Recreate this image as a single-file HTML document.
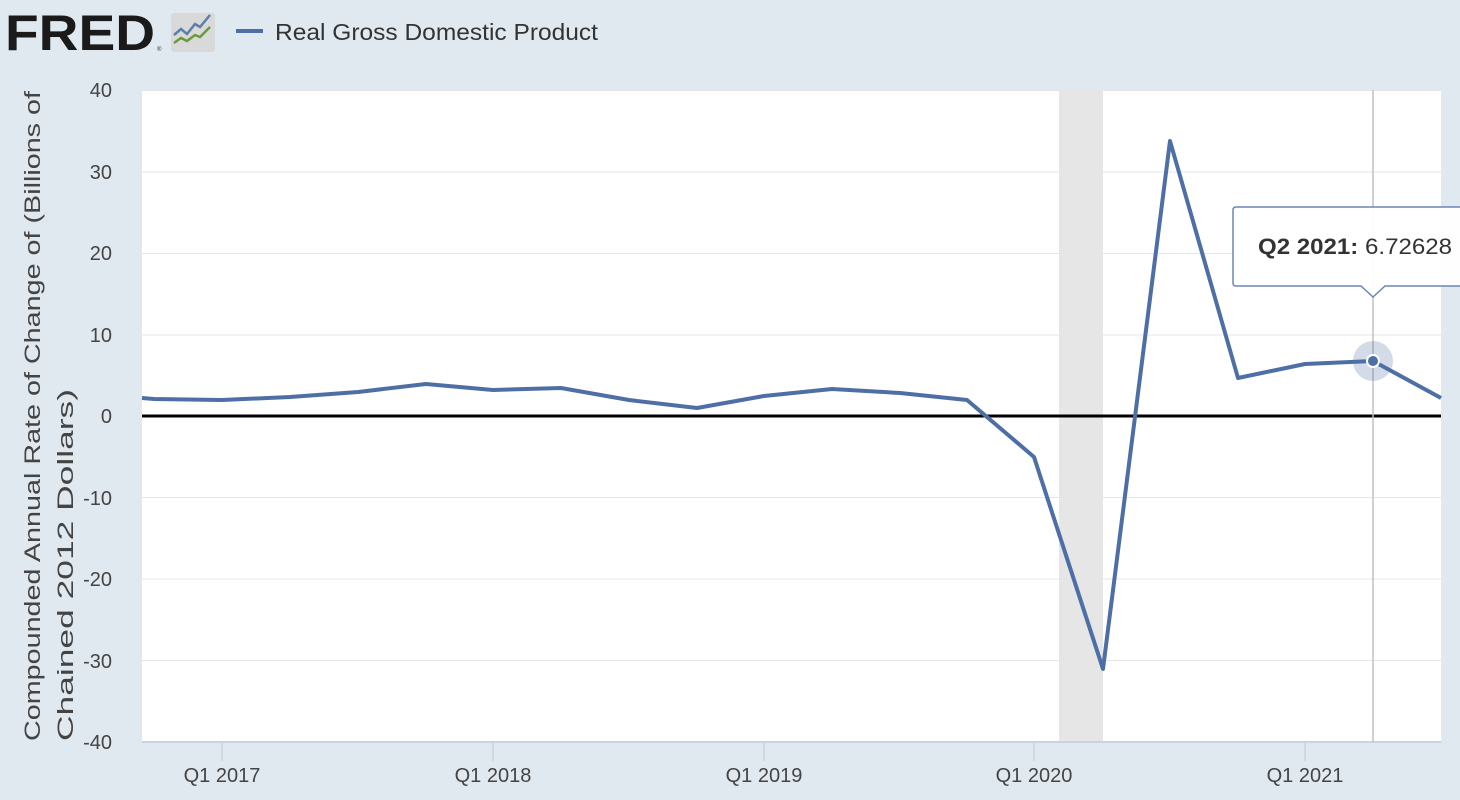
<!DOCTYPE html>
<html><head><meta charset="utf-8"><style>
body{margin:0;background:#e1e9f0;}
svg{display:block;font-family:"Liberation Sans",sans-serif;}
</style></head><body>
<svg width="1460" height="800" xmlns="http://www.w3.org/2000/svg">
<rect width="1460" height="800" fill="#e1e9f0"/>
<text x="5" y="50" font-size="50" font-weight="bold" fill="#1a1a1a" textLength="150" lengthAdjust="spacingAndGlyphs">FRED</text>
<text x="157" y="51" font-size="6" fill="#333">®</text>
<rect x="171" y="13" width="44" height="39" rx="3" fill="#d9d9d9"/>
<polyline points="174,35 181,29 187,34 195,24 200,27 210,15" fill="none" stroke="#5a7fa8" stroke-width="2.5"/>
<polyline points="174,43 181,38 187,41 195,35 200,37 210,27" fill="none" stroke="#6a9a3a" stroke-width="2.5"/>
<line x1="236" y1="31" x2="263" y2="31" stroke="#4e6fa5" stroke-width="4"/>
<text x="275" y="40" font-size="23" fill="#333" textLength="323" lengthAdjust="spacingAndGlyphs">Real Gross Domestic Product</text>
<rect x="142" y="90" width="1299" height="652" fill="#fff"/>
<rect x="1059" y="90" width="44" height="652" fill="#e6e6e6"/>
<g stroke="#e6e6e6" stroke-width="1">
<line x1="142" y1="90.5" x2="1441" y2="90.5"/><line x1="142" y1="172" x2="1441" y2="172"/>
<line x1="142" y1="253.5" x2="1441" y2="253.5"/><line x1="142" y1="335" x2="1441" y2="335"/>
<line x1="142" y1="497.5" x2="1441" y2="497.5"/><line x1="142" y1="579" x2="1441" y2="579"/>
<line x1="142" y1="660.5" x2="1441" y2="660.5"/>
</g>
<line x1="142" y1="742" x2="1441" y2="742" stroke="#c8d3e3" stroke-width="2"/>
<g stroke="#c8d3e3" stroke-width="1.5">
<line x1="222" y1="742" x2="222" y2="761"/><line x1="493" y1="742" x2="493" y2="761"/>
<line x1="764" y1="742" x2="764" y2="761"/><line x1="1034" y1="742" x2="1034" y2="761"/>
<line x1="1305" y1="742" x2="1305" y2="761"/>
</g>
<line x1="142" y1="416" x2="1441" y2="416" stroke="#000" stroke-width="3"/>
<line x1="1373" y1="90" x2="1373" y2="742" stroke="#c0c0c0" stroke-width="1.5"/>
<g font-size="20" fill="#444" text-anchor="end">
<text x="112" y="97">40</text><text x="112" y="179">30</text><text x="112" y="260">20</text>
<text x="112" y="342">10</text><text x="112" y="423">0</text><text x="112" y="505">-10</text>
<text x="112" y="586">-20</text><text x="112" y="668">-30</text><text x="112" y="749">-40</text>
</g>
<g font-size="20" fill="#444" text-anchor="middle">
<text x="222" y="782">Q1 2017</text><text x="493" y="782">Q1 2018</text><text x="764" y="782">Q1 2019</text>
<text x="1034" y="782">Q1 2020</text><text x="1305" y="782">Q1 2021</text>
</g>
<text transform="translate(40,741) rotate(-90)" font-size="22" fill="#444" textLength="650" lengthAdjust="spacingAndGlyphs">Compounded Annual Rate of Change of (Billions of</text>
<text transform="translate(73,741) rotate(-90)" font-size="22" fill="#444" textLength="352" lengthAdjust="spacingAndGlyphs">Chained 2012 Dollars)</text>
<polyline fill="none" stroke="#4e6fa5" stroke-width="4" stroke-linejoin="round" points="142,398 154,399 222,400 290,397 358,392 426,384 493,390 561,388 629,400 697,408 764,396 832,389 900,393 967,400 1034,457 1103,669 1170,141 1238,378 1305,364 1373,361 1441,398"/>
<circle cx="1373" cy="361" r="20" fill="#4e6fa5" opacity="0.25"/>
<circle cx="1373" cy="361" r="6" fill="#4e6fa5" stroke="#fff" stroke-width="2"/>
<path d="M1236,207 H1462 V286 H1385 L1373,297 L1361,286 H1236 Q1233,286 1233,283 V210 Q1233,207 1236,207 Z" fill="#fff" fill-opacity="0.95" stroke="#6a85b5" stroke-width="1.5"/>
<text x="1258" y="254" font-size="22" fill="#333" textLength="194" lengthAdjust="spacingAndGlyphs"><tspan font-weight="bold">Q2 2021:</tspan> 6.72628</text>
</svg>
</body></html>
